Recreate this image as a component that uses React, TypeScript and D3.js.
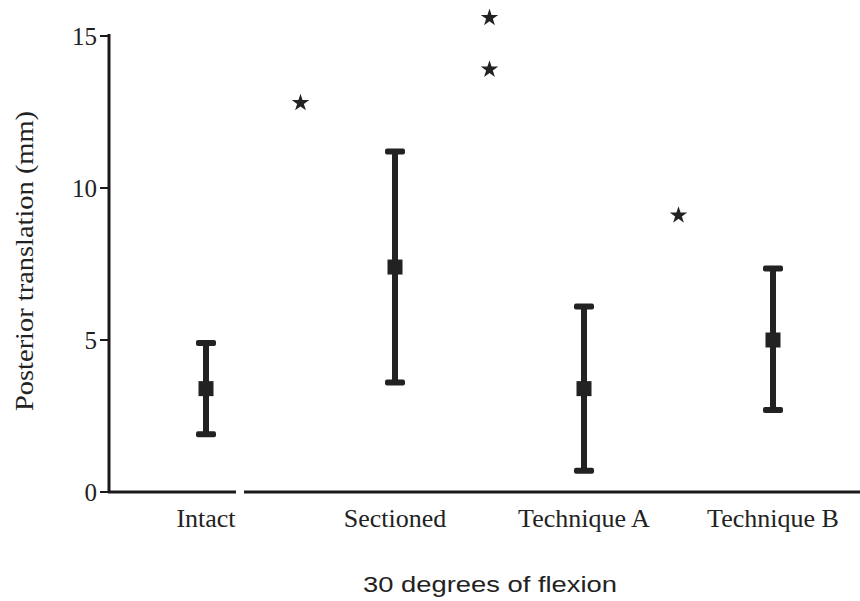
import React from 'react'
import * as d3 from 'd3'

const categories = ['Intact', 'Sectioned', 'Technique A', 'Technique B']
const means = [3.4, 7.4, 3.4, 5.0]
const upper = [4.9, 11.2, 6.1, 7.35]
const lower = [1.9, 3.6, 0.7, 2.7]
// significance stars: position between categories, value
const starX = [0.5, 1.5, 1.5, 2.5]
const starY = [12.8, 15.6, 13.9, 9.1]
const yTicks = [0, 5, 10, 15]

const W = 860
const H = 601

export default function App() {
  const x = d3.scaleBand<string>().domain(categories).range([111.5, 867.5])
  const xc = (i: number) => (x(categories[0]) as number) + x.bandwidth() / 2 + i * x.step()
  const y = d3.scaleLinear().domain([0, 15]).range([492, 36])
  const star = d3.symbol().type(d3.symbolStar).size(95)()
  const serif = '"Liberation Serif", "DejaVu Serif", serif'

  return (
    <svg width={W} height={H} style={{ position: 'absolute', left: 0, top: 0, background: '#fff' }}>
      {/* y axis */}
      <line x1={109} x2={109} y1={y(15) - 2} y2={y(0) + 1} stroke="#1a1a1a" strokeWidth={3} />
      {yTicks.map(t => (
        <g key={t}>
          <line x1={100} x2={109} y1={y(t)} y2={y(t)} stroke="#1a1a1a" strokeWidth={2} />
          <text x={97} y={y(t)} dy="0.35em" textAnchor="end" fontFamily={serif} fontSize={25} fill="#222">{t}</text>
        </g>
      ))}
      <text transform={`translate(33,${y(7.6)}) rotate(-90)`} textAnchor="middle" fontFamily={serif} fontSize={25}
        textLength={300} lengthAdjust="spacingAndGlyphs" fill="#222">
        Posterior translation (mm)
      </text>
      {/* x axis with small gap */}
      <line x1={108} x2={236} y1={y(0)} y2={y(0)} stroke="#1a1a1a" strokeWidth={3} />
      <line x1={244} x2={W} y1={y(0)} y2={y(0)} stroke="#1a1a1a" strokeWidth={3} />
      {categories.map((c, i) => (
        <text key={c} x={xc(i)} y={527} textAnchor="middle" fontFamily={serif} fontSize={26} fill="#222">{c}</text>
      ))}
      <text x={490} y={592} textAnchor="middle" fontFamily='"Liberation Sans", Arial, sans-serif' fontSize={22}
        textLength={254} lengthAdjust="spacingAndGlyphs" fill="#222">
        30 degrees of flexion
      </text>
      {/* error bars */}
      {categories.map((c, i) => (
        <g key={c} fill="#222" stroke="#222">
          <line x1={xc(i)} x2={xc(i)} y1={y(upper[i])} y2={y(lower[i])} strokeWidth={6} />
          <rect x={xc(i) - 10} y={y(upper[i]) - 3} width={20} height={6} rx={2} strokeWidth={0} />
          <rect x={xc(i) - 10} y={y(lower[i]) - 3} width={20} height={6} rx={2} strokeWidth={0} />
          <rect x={xc(i) - 7.5} y={y(means[i]) - 7.5} width={15} height={15} strokeWidth={0} />
        </g>
      ))}
      {/* stars */}
      {starX.map((sx, i) => (
        <path key={i} d={star as string} transform={`translate(${xc(0) + sx * x.step()},${y(starY[i])})`} fill="#222" />
      ))}
    </svg>
  )
}
